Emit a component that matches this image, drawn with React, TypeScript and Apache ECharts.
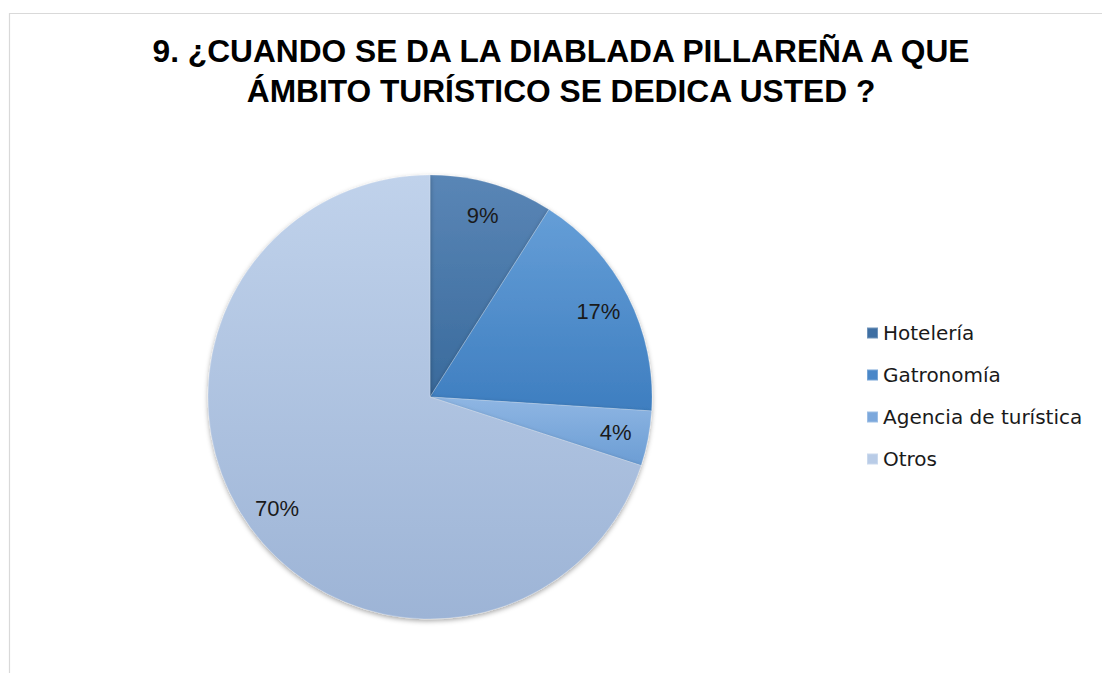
import React, { useEffect, useRef } from "react";
import * as echarts from "echarts";

const titleLines = [
  "9. ¿CUANDO SE DA LA DIABLADA PILLAREÑA A QUE",
  "ÁMBITO TURÍSTICO SE DEDICA USTED ?",
];
const categories = ["Hotelería", "Gatronomía", "Agencia de turística", "Otros"];
const values = [9, 17, 4, 70];
const legendColors = ["#3f6fa3", "#4a87c8", "#7ca8dc", "#b9cce7"];
const gradientTop = ["#5a86b6", "#659ed7", "#8fb6e3", "#c0d2eb"];
const gradientBottom = ["#396a9c", "#3e7ec0", "#6b9dd4", "#9db4d6"];

export default function App() {
  const ref = useRef<HTMLDivElement>(null);

  useEffect(() => {
    if (!ref.current) return;
    const chart = echarts.init(ref.current, undefined, { renderer: "svg" });

    const mainData = categories.map((name, i) => ({
      name,
      value: values[i],
      itemStyle: {
        color: new echarts.graphic.LinearGradient(0, 0, 0, 1, [
          { offset: 0, color: gradientTop[i] },
          { offset: 1, color: gradientBottom[i] },
        ]),
      },
    }));
    const labelData = categories.map((name, i) => ({ name, value: values[i] }));

    chart.setOption({
      animation: false,
      backgroundColor: "#ffffff",
      graphic: [
        {
          type: "rect",
          z: -10,
          shape: { x: 9.5, y: 13.5, width: 1200, height: 800 },
          style: { fill: "none", stroke: "#d9d9d9", lineWidth: 1.2 },
        },
      ],
      title: {
        text: titleLines.join("\n"),
        left: 561,
        top: 31,
        padding: 0,
        textAlign: "center",
        textStyle: {
          fontFamily: "'Liberation Sans', Arial, sans-serif",
          fontSize: 31.7,
          fontWeight: "bold",
          color: "#000000",
          lineHeight: 40,
        },
      },
      legend: {
        orient: "vertical",
        left: 861,
        top: 318,
        itemWidth: 11,
        itemHeight: 11,
        itemGap: 22,
        icon: "rect",
        selectedMode: false,
        data: categories.map((name, i) => ({
          name,
          itemStyle: { color: legendColors[i] },
        })),
        textStyle: {
          fontFamily: "'DejaVu Sans', sans-serif",
          fontSize: 20,
          lineHeight: 20,
          color: "#1a1a1a",
        },
      },
      series: [
        {
          type: "pie",
          center: [430, 397],
          radius: [0, 222],
          startAngle: 90,
          clockwise: true,
          silent: true,
          label: { show: false },
          labelLine: { show: false },
          itemStyle: {
            borderColor: "rgba(255,255,255,0.25)",
            borderWidth: 0.8,
            shadowBlur: 5,
            shadowColor: "rgba(0,0,0,0.35)",
            shadowOffsetY: 2,
          },
          data: mainData,
        },
        {
          type: "pie",
          center: [430, 397],
          radius: [150, 222],
          startAngle: 90,
          clockwise: true,
          silent: true,
          percentPrecision: 0,
          itemStyle: { color: "rgba(0,0,0,0)" },
          label: {
            show: true,
            position: "inside",
            formatter: "{d}%",
            fontFamily: "'Liberation Sans', Arial, sans-serif",
            fontSize: 22,
            color: "#1a1a1a",
          },
          labelLine: { show: false },
          emphasis: { disabled: true },
          data: labelData,
        },
      ],
    });

    return () => chart.dispose();
  }, []);

  return (
    <div
      ref={ref}
      style={{ position: "fixed", left: 0, top: 0, width: 1102, height: 673 }}
    />
  );
}
